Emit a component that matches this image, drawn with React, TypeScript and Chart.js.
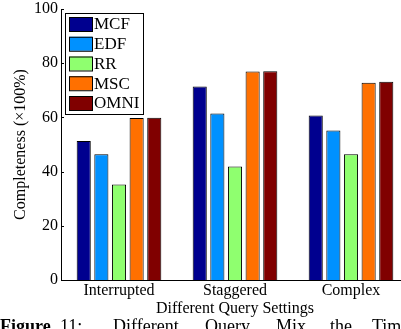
import React, { useEffect, useRef } from "react";
import { Chart, registerables } from "chart.js";

Chart.register(...registerables);

const categories = ["Interrupted", "Staggered", "Complex"];
const seriesNames = ["MCF", "EDF", "RR", "MSC", "OMNI"];
const mcf = [51.3, 71.4, 60.7];
const edf = [46.4, 61.4, 55.2];
const rr = [35.2, 41.9, 46.4];
const msc = [59.8, 76.9, 72.8];
const omni = [59.9, 77.0, 73.2];
const yTickValues = [0, 20, 40, 60, 80, 100];
const colors = ["#00008F", "#0091FF", "#8FFF6F", "#FF7000", "#800000"];
const yTitle = "Completeness (\u00d7100%)";
const xTitle = "Different Query Settings";
const captionWords = ["Figure", "11:", "Different", "Query", "Mix", "the", "Time"];
const captionX = [0, 60, 113, 205, 276, 330, 372];

const SERIF = "'Liberation Serif', 'Times New Roman', serif";

const legendPlugin = {
  id: "boxLegend",
  afterDraw(chart: any) {
    const ctx = chart.ctx;
    const area = chart.chartArea;
    const x0 = area.left + 4;
    const y0 = area.top + 4;
    const w = 78;
    const h = 101;
    ctx.save();
    ctx.fillStyle = "#fff";
    ctx.fillRect(x0, y0, w, h);
    ctx.strokeStyle = "#000";
    ctx.lineWidth = 1;
    ctx.strokeRect(x0 + 0.5, y0 + 0.5, w, h);
    ctx.font = `17px ${SERIF}`;
    ctx.textBaseline = "middle";
    ctx.textAlign = "left";
    chart.data.datasets.forEach((ds: any, i: number) => {
      const sy = y0 + 4 + i * 19.75;
      ctx.fillStyle = ds.backgroundColor;
      ctx.fillRect(x0 + 4, sy, 23, 14);
      ctx.strokeStyle = "#000";
      ctx.strokeRect(x0 + 4.5, sy + 0.5, 23, 14);
      ctx.fillStyle = "#000";
      ctx.fillText(ds.label, x0 + 29, sy + 8);
    });
    ctx.restore();
  },
};

const inwardTicks = {
  id: "inwardTicks",
  afterDatasetsDraw(chart: any) {
    const ctx = chart.ctx;
    const ys = chart.scales.y;
    const left = chart.chartArea.left;
    ctx.save();
    ctx.strokeStyle = "#000";
    ctx.lineWidth = 1;
    ys.ticks.forEach((t: any) => {
      const py = Math.round(ys.getPixelForValue(t.value)) + 0.5;
      ctx.beginPath();
      ctx.moveTo(left, py);
      ctx.lineTo(left + 3, py);
      ctx.stroke();
    });
    ctx.restore();
  },
};

export default function App() {
  const ref = useRef<HTMLCanvasElement>(null);
  useEffect(() => {
    if (!ref.current) return;
    const seriesValues = [mcf, edf, rr, msc, omni];
    const chart = new Chart(ref.current, {
      type: "bar",
      data: {
        labels: categories,
        datasets: seriesNames.map((name, i) => ({
          label: name,
          data: seriesValues[i],
          backgroundColor: colors[i],
          borderColor: "#000",
          borderWidth: 1,
          categoryPercentage: 0.76,
          barPercentage: 0.8,
        })),
      },
      options: {
        responsive: false,
        animation: false,
        devicePixelRatio: 1,
        layout: { padding: { left: 0, right: 11, top: 0, bottom: 0 } },
        plugins: {
          legend: { display: false },
          tooltip: { enabled: false },
        },
        scales: {
          x: {
            type: "category",
            offset: true,
            grid: { display: false, drawTicks: false },
            border: { display: true, color: "#000", width: 1 },
            ticks: {
              color: "#000",
              font: { family: SERIF, size: 16, lineHeight: 1 },
              padding: 3,
              maxRotation: 0,
            },
            title: {
              display: true,
              text: xTitle,
              color: "#000",
              font: { family: SERIF, size: 16, lineHeight: 1 },
              padding: { top: 0, bottom: 3 },
            },
            afterFit: (s: any) => {
              s.height = 40;
            },
          },
          y: {
            min: 0,
            max: 100,
            grid: { display: false, drawTicks: false },
            border: { display: true, color: "#000", width: 1 },
            afterBuildTicks: (s: any) => {
              s.ticks = yTickValues.map((v) => ({ value: v }));
            },
            ticks: {
              color: "#000",
              font: { family: SERIF, size: 16, lineHeight: 0.75 },
              padding: 3,
            },
            title: {
              display: true,
              text: yTitle,
              color: "#000",
              font: { family: SERIF, size: 16, lineHeight: 1.2 },
              padding: { top: 11, bottom: 0 },
            },
            afterFit: (s: any) => {
              s.width = 61;
            },
          },
        },
      },
      plugins: [inwardTicks, legendPlugin],
    });
    return () => chart.destroy();
  }, []);

  return (
    <div
      style={{
        position: "fixed",
        left: 0,
        top: 0,
        width: 401,
        height: 329,
        overflow: "hidden",
        background: "#fff",
      }}
    >
      <canvas
        ref={ref}
        width={420}
        height={320}
        style={{ position: "absolute", left: 0, top: 0, width: 420, height: 320 }}
      />
      {captionWords.map((w, i) => (
        <span
          key={w}
          style={{
            position: "absolute",
            left: captionX[i],
            top: 317,
            fontFamily: SERIF,
            fontSize: 18,
            lineHeight: "18px",
            fontWeight: i === 0 ? "bold" : "normal",
            whiteSpace: "nowrap",
            color: "#000",
          }}
        >
          {w}
        </span>
      ))}
    </div>
  );
}
